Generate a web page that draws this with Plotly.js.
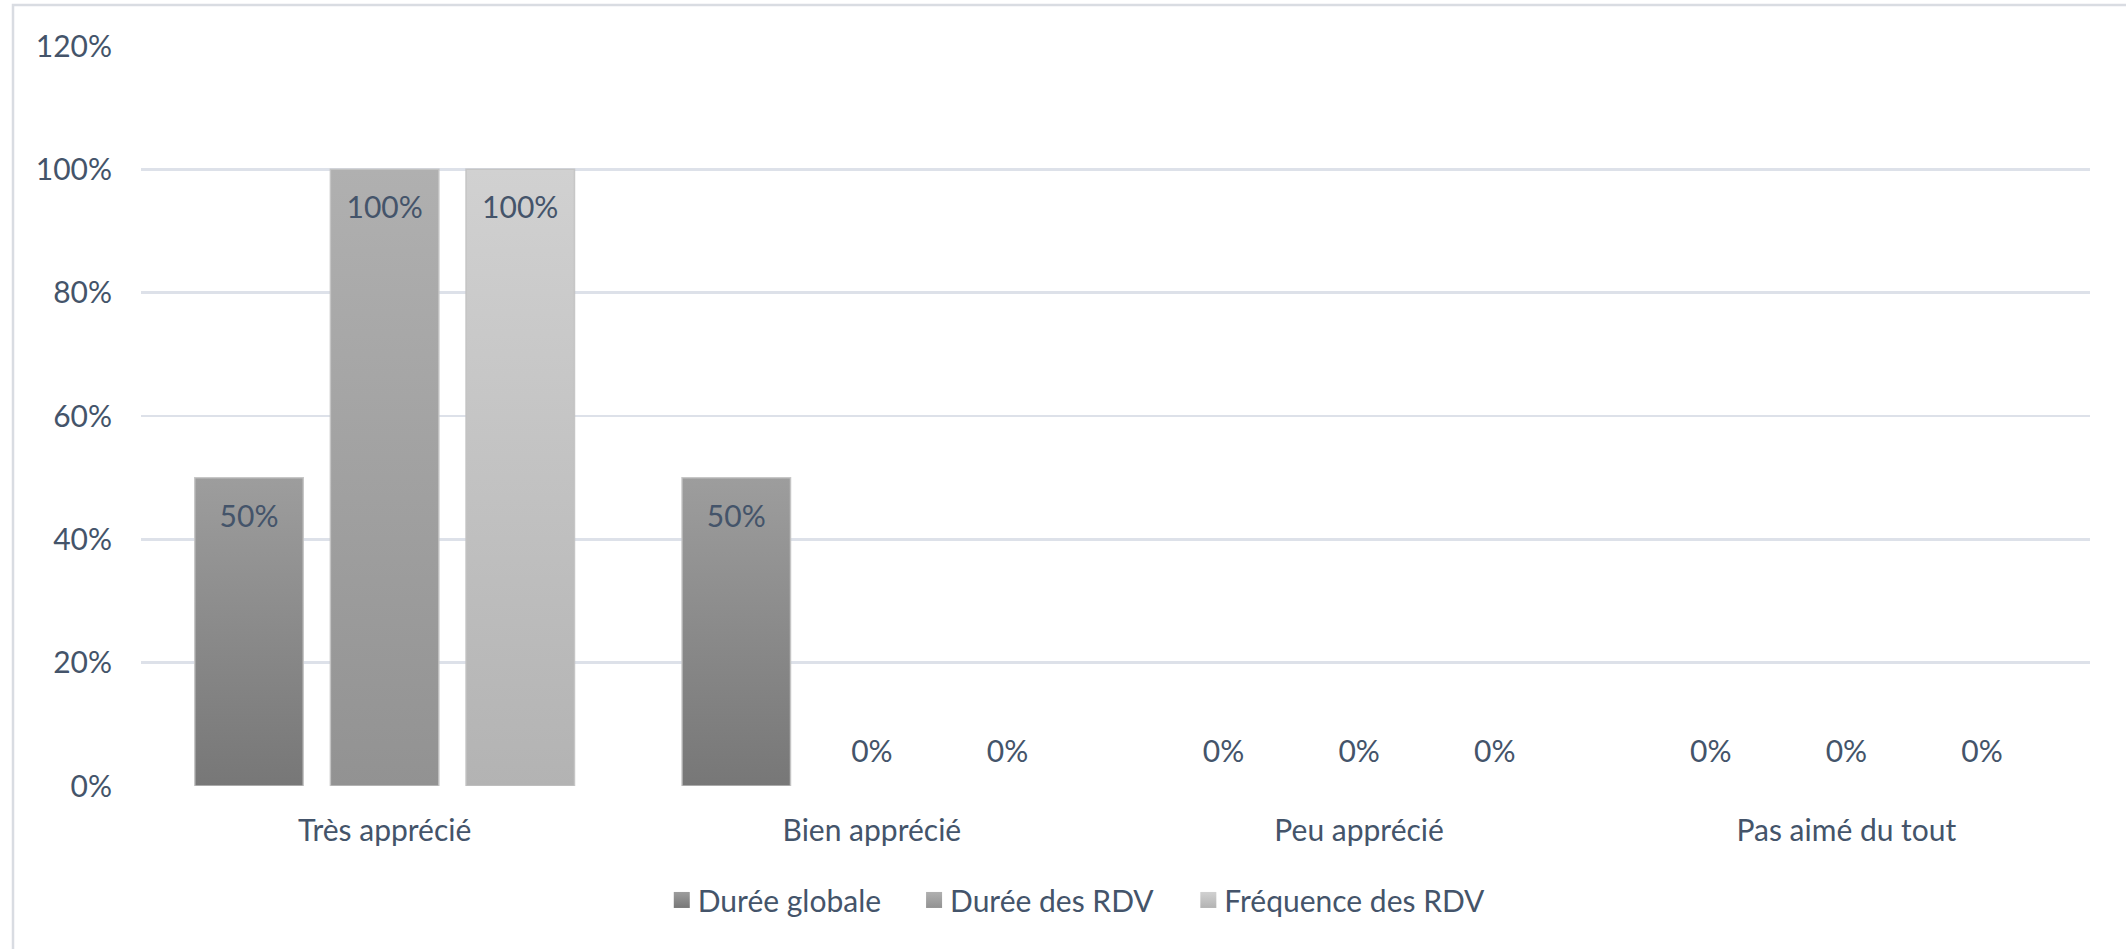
<!DOCTYPE html>
<html>
<head>
<meta charset="utf-8">
<script src="https://cdn.plot.ly/plotly-3.0.1.min.js"></script>
<style>
html,body{margin:0;padding:0;background:#fff;}
#chart{width:2126px;height:949px;}
</style>
</head>
<body>
<div id="chart"></div>
<script>
// ---- data ----
var categories = ["Très apprécié", "Bien apprécié", "Peu apprécié", "Pas aimé du tout"];
var seriesNames = ["Durée globale", "Durée des RDV", "Fréquence des RDV"];
var dureeGlobale = [0.5, 0.5, 0, 0];
var dureeRdv = [1.0, 0, 0, 0];
var frequenceRdv = [1.0, 0, 0, 0];
var yTickValues = [0, 0.2, 0.4, 0.6, 0.8, 1.0, 1.2];
var yTickLabels = ["0%", "20%", "40%", "60%", "80%", "100%", "120%"];

// ---- style ----
var FONT = "Lato, Calibri, 'Open Sans', sans-serif";
var FS = 30;
var TEXT = "#44546a";
var gradients = [
  {top: "#9d9d9d", bottom: "#777777", mid: "#8a8a8a"},
  {top: "#b0b0b0", bottom: "#929292", mid: "#a1a1a1"},
  {top: "#d1d1d1", bottom: "#b3b3b3", mid: "#c2c2c2"}
];
var legendShift = [-13, 11, 36];   // px tweaks for Excel-like legend spacing
var allSeries = [dureeGlobale, dureeRdv, frequenceRdv];

var traces = allSeries.map(function (vals, i) {
  return {
    type: "bar",
    name: seriesNames[i],
    x: categories,
    y: vals,
    text: vals.map(function (v) { return Math.round(v * 100) + "%"; }),
    textposition: vals.map(function (v) { return v > 0 ? "inside" : "outside"; }),
    insidetextanchor: "end",
    textangle: 0,
    cliponaxis: false,
    textfont: {family: FONT, size: FS, color: TEXT},
    insidetextfont: {family: FONT, size: FS, color: TEXT},
    outsidetextfont: {family: FONT, size: FS, color: TEXT},
    marker: {
      color: gradients[i].mid,
      line: {color: "rgba(195,195,195,0.9)", width: vals.map(function (v) { return v > 0 ? 1.5 : 0; })}
    },
    hoverinfo: "x+y"
  };
});

var layout = {
  width: 2126,
  height: 949,
  paper_bgcolor: "#ffffff",
  plot_bgcolor: "#ffffff",
  margin: {l: 141, r: 36, t: 46, b: 163},
  barmode: "group",
  bargap: 0.165,
  bargroupgap: 0.2,
  font: {family: FONT, size: FS, color: TEXT},
  showlegend: true,
  legend: {
    orientation: "h",
    x: 0.475, xanchor: "center",
    y: -0.154, yanchor: "middle",
    font: {family: FONT, size: FS, color: TEXT},
    itemwidth: 30,
    traceorder: "normal"
  },
  xaxis: {
    type: "category",
    showgrid: false,
    zeroline: false,
    showline: false,
    ticks: "",
    ticklabelstandoff: 24,
    tickfont: {family: FONT, size: FS, color: TEXT}
  },
  yaxis: {
    range: [0, 1.2],
    tickvals: yTickValues,
    ticktext: yTickLabels,
    showgrid: true,
    gridcolor: "#dde1e9",
    gridwidth: 2.5,
    zeroline: false,
    showline: false,
    ticks: "",
    ticklabelstandoff: 28,
    tickfont: {family: FONT, size: FS, color: TEXT},
    fixedrange: true
  },
  shapes: [{
    type: "rect", xref: "paper", yref: "paper",
    x0: (13 - 141) / 1949, x1: 1.2,
    y0: (786 - 5) / 740, y1: -0.5,
    line: {color: "#d9dce2", width: 2.5},
    fillcolor: "rgba(0,0,0,0)",
    layer: "below"
  }]
};

function applyStyling(gd) {
  var svg = gd.querySelector("svg.main-svg");
  if (!svg) return;
  var NS = "http://www.w3.org/2000/svg";
  var defs = svg.querySelector("defs");
  if (!defs) { defs = document.createElementNS(NS, "defs"); svg.insertBefore(defs, svg.firstChild); }
  gradients.forEach(function (g, i) {
    var lg = document.createElementNS(NS, "linearGradient");
    lg.setAttribute("id", "barGrad" + i);
    lg.setAttribute("x1", "0"); lg.setAttribute("y1", "0");
    lg.setAttribute("x2", "0"); lg.setAttribute("y2", "1");
    var s1 = document.createElementNS(NS, "stop");
    s1.setAttribute("offset", "0"); s1.setAttribute("stop-color", g.top);
    var s2 = document.createElementNS(NS, "stop");
    s2.setAttribute("offset", "1"); s2.setAttribute("stop-color", g.bottom);
    lg.appendChild(s1); lg.appendChild(s2);
    defs.appendChild(lg);
  });
  var barTraces = gd.querySelectorAll(".barlayer .trace.bars");
  barTraces.forEach(function (t, i) {
    var vals = allSeries[i];
    t.querySelectorAll(".point").forEach(function (pt, j) {
      var p = pt.querySelector("path");
      if (p) p.style.fill = "url(#barGrad" + i + ")";
      var tx = pt.querySelector("text");
      if (tx) {
        var dy = vals[j] > 0 ? 16 : -15;
        var tr = tx.getAttribute("transform") || "";
        tx.setAttribute("transform", "translate(0," + dy + ") " + tr);
      }
    });
  });
  // let the legend draw outside its computed box
  var legend = gd.querySelector(".legend");
  if (legend) {
    legend.removeAttribute("clip-path");
    legend.querySelectorAll("[clip-path]").forEach(function (el) { el.removeAttribute("clip-path"); });
  }
  var legendItems = gd.querySelectorAll(".legend .traces");
  legendItems.forEach(function (t, i) {
    t.querySelectorAll(".legendpoints path").forEach(function (p) {
      p.style.fill = "url(#barGrad" + i + ")";
      p.setAttribute("d", "M8,8H-8V-8H8Z");
      p.style.strokeWidth = "0px";
    });
    var lt = t.querySelector("text.legendtext");
    if (lt) lt.setAttribute("x", "36");
    var tr = t.getAttribute("transform") || "";
    var m = tr.match(/translate\(\s*([-\d.]+)[ ,]+([-\d.]+)\s*\)/);
    if (m) {
      var nx = parseFloat(m[1]) + legendShift[i];
      t.setAttribute("transform", "translate(" + nx + "," + m[2] + ")");
    }
  });
}

Plotly.newPlot("chart", traces, layout, {displayModeBar: false, staticPlot: true}).then(function (gd) {
  applyStyling(gd);
});
</script>
</body>
</html>
